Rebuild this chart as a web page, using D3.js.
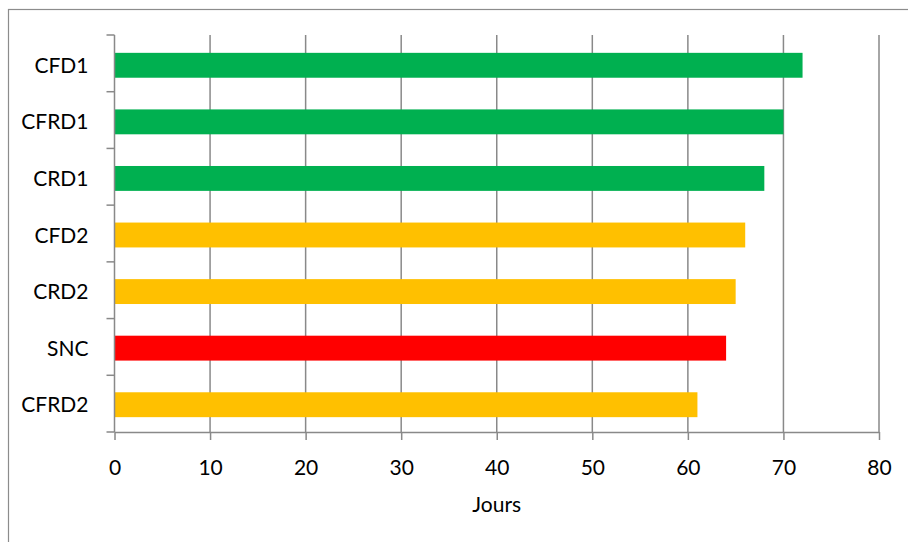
<!DOCTYPE html>
<html>
<head>
<meta charset="utf-8">
<script src="https://cdn.jsdelivr.net/npm/d3@7"></script>
<style>
  html, body { margin: 0; padding: 0; background: #fff; }
  svg { display: block; }
  text { font-family: Lato, "Open Sans", sans-serif; fill: #000; }
</style>
</head>
<body>
<svg id="chart" width="908" height="542"></svg>
<script>
// Durée (jours) par traitement
const categories = ["CFD1", "CFRD1", "CRD1", "CFD2", "CRD2", "SNC", "CFRD2"];
const values = [72, 70, 68, 66, 65, 64, 61];
const groups = ["g1", "g1", "g1", "g2", "g2", "snc", "g2"];
const groupColors = { g1: "#00B050", g2: "#FFC000", snc: "#FF0000" };
const xTicks = [0, 10, 20, 30, 40, 50, 60, 70, 80];
const xTitle = "Jours";

const svg = d3.select("#chart");
const W = 908, H = 542;
const m = { left: 114.5, right: 29, top: 35, bottom: 110 };
const fontSize = 21;

// chart frame
svg.append("rect")
  .attr("x", 8.5).attr("y", 9.5)
  .attr("width", W + 20).attr("height", H + 20)
  .attr("fill", "none").attr("stroke", "#8c8c8c").attr("stroke-width", 1.2);

const x = d3.scaleLinear().domain([0, 80]).range([m.left, W - m.right]);
// category bands (axis ticks) and bar placement
const band = d3.scaleBand().domain(categories).range([m.top, H - m.bottom]);
const y = d3.scaleBand().domain(categories).range([m.top + 2, H - m.bottom + 1])
  .paddingInner(0.56).paddingOuter(0.28);

const gridColor = "#898989";

// vertical gridlines
svg.append("g").selectAll("line").data(xTicks.slice(1)).join("line")
  .attr("x1", d => x(d)).attr("x2", d => x(d))
  .attr("y1", m.top).attr("y2", H - m.bottom)
  .attr("stroke", gridColor).attr("stroke-width", 1.5);

// bars
svg.append("g").selectAll("rect").data(categories).join("rect")
  .attr("x", x(0))
  .attr("y", d => y(d))
  .attr("width", (d, i) => x(values[i]) - x(0))
  .attr("height", y.bandwidth())
  .attr("fill", (d, i) => groupColors[groups[i]]);

// x axis
const xAxis = svg.append("g").attr("transform", `translate(0,${H - m.bottom})`)
  .call(d3.axisBottom(x).tickValues(xTicks).tickSize(8).tickSizeOuter(0));
xAxis.select(".domain").attr("stroke", gridColor).attr("stroke-width", 1.5);
xAxis.selectAll(".tick line").attr("stroke", gridColor).attr("stroke-width", 1.5);
xAxis.selectAll("text")
  .attr("y", 42.5).attr("dy", 0)
  .attr("font-size", fontSize).attr("font-family", "Lato, sans-serif").attr("fill", "#000");

// y axis: ticks at band boundaries, labels beside each bar
const yAxis = svg.append("g").attr("transform", `translate(${m.left},0)`);
yAxis.append("line")
  .attr("x1", 0).attr("x2", 0).attr("y1", m.top).attr("y2", H - m.bottom)
  .attr("stroke", gridColor).attr("stroke-width", 1.5);
const bounds = categories.map(c => band(c)).concat([H - m.bottom]);
yAxis.selectAll("line.tk").data(bounds).join("line").attr("class", "tk")
  .attr("x1", -8).attr("x2", 0).attr("y1", d => d).attr("y2", d => d)
  .attr("stroke", gridColor).attr("stroke-width", 1.5);
yAxis.selectAll("text").data(categories).join("text")
  .attr("x", -26).attr("y", d => y(d) + y.bandwidth() / 2 + 7.5)
  .attr("text-anchor", "end")
  .attr("font-size", fontSize)
  .text(d => d);

// axis title
svg.append("text")
  .attr("x", (x(0) + x(80)) / 2).attr("y", 511.5)
  .attr("text-anchor", "middle")
  .attr("font-size", fontSize)
  .text(xTitle);
</script>
</body>
</html>
